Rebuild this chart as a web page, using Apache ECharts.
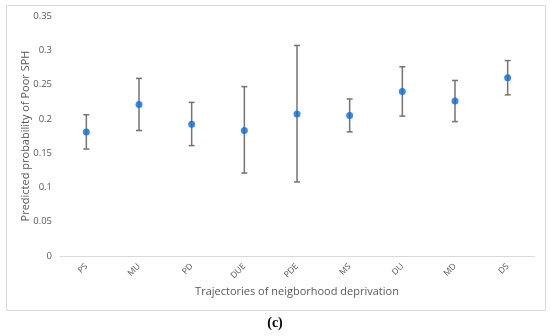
<!DOCTYPE html>
<html><head><meta charset="utf-8">
<script src="https://cdn.jsdelivr.net/npm/echarts@6/dist/echarts.min.js"></script>
<style>html,body{margin:0;padding:0;background:#fff}#c{width:550px;height:336px}</style>
</head><body><div id="c"></div>
<script>
const categories = ['PS','MU','PD','DUE','PDE','MS','DU','MD','DS'];
const estimates = [0.181,0.221,0.192,0.183,0.207,0.205,0.240,0.226,0.260];
const lower = [0.156,0.183,0.161,0.121,0.108,0.181,0.204,0.196,0.235];
const upper = [0.206,0.259,0.224,0.247,0.307,0.229,0.276,0.256,0.285];
const yTicks = [0,0.05,0.1,0.15,0.2,0.25,0.3,0.35];

const chart = echarts.init(document.getElementById('c'));
const errData = categories.map((c,i)=>[i, lower[i], upper[i]]);
chart.setOption({
  animation:false,
  graphic:[
    {type:'rect', shape:{x:6.5,y:5.5,width:539,height:305}, style:{fill:'none',stroke:'#d9d9d9',lineWidth:1}, z:-1},
    {type:'text', left:'center', top:316, style:{text:'(c)', font:'bold 14px "Liberation Serif", serif', fill:'#000'}}
  ],
  grid:{left:60,right:16,top:16,bottom:80},
  xAxis:{type:'category', data:categories, boundaryGap:true,
    axisLine:{lineStyle:{color:'#d9d9d9',width:1}}, axisTick:{show:false},
    axisLabel:{rotate:45, color:'#595959', fontSize:8.5, fontFamily:'Open Sans', margin:9},
    name:'Trajectories of neigborhood deprivation', nameLocation:'middle', nameGap:30, nameMoveOverlap:false,
    nameTextStyle:{color:'#595959', fontSize:11, fontFamily:'Open Sans'}},
  yAxis:{type:'value', min:0, max:0.35, interval:0.05,
    axisLine:{show:false}, axisTick:{show:false}, splitLine:{show:false},
    axisLabel:{color:'#595959', fontSize:9.5, fontFamily:'Open Sans', margin:8,
      formatter:v=>{const t=yTicks.find(x=>Math.abs(x-v)<1e-9); return String(+(t??v).toFixed(2));}},
    name:'Predicted probability of Poor SPH', nameLocation:'middle', nameGap:29, nameMoveOverlap:false,
    nameTextStyle:{color:'#595959', fontSize:11, fontFamily:'Open Sans'}},
  series:[
    {type:'custom', data:errData, z:1,
     renderItem:(params, api)=>{
       const x = api.value(0);
       const lo = api.coord([x, api.value(1)]);
       const hi = api.coord([x, api.value(2)]);
       const cw = 3;
       const st = {stroke:'#737373', lineWidth:1.5};
       return {type:'group', children:[
         {type:'line', shape:{x1:lo[0],y1:lo[1],x2:hi[0],y2:hi[1]}, style:st},
         {type:'line', shape:{x1:lo[0]-cw,y1:lo[1],x2:lo[0]+cw,y2:lo[1]}, style:st},
         {type:'line', shape:{x1:hi[0]-cw,y1:hi[1],x2:hi[0]+cw,y2:hi[1]}, style:st}
       ]};
     }},
    {type:'scatter', data:estimates, symbol:'circle', symbolSize:7, z:3,
     itemStyle:{color:'#0f6cd4'}}
  ]
});
</script></body></html>
